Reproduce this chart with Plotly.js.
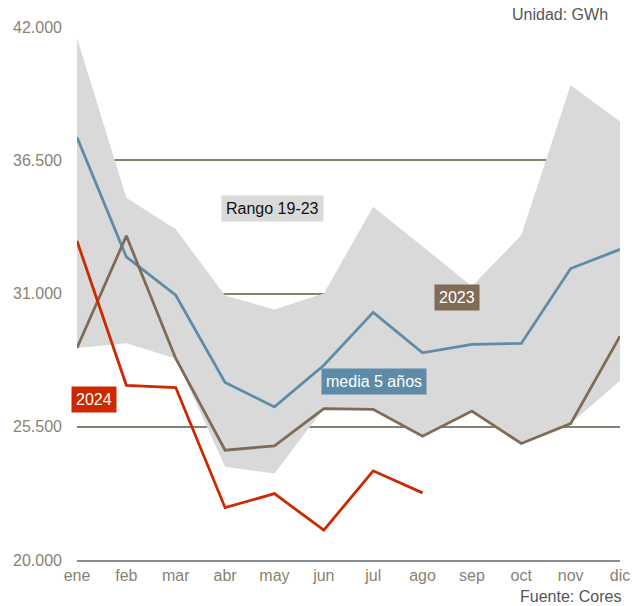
<!DOCTYPE html>
<html>
<head>
<meta charset="utf-8">
<script src="https://cdn.plot.ly/plotly-3.0.1.min.js"></script>
<style>body{margin:0;padding:0;background:#fff}#chart{width:639px;height:606px}</style>
</head>
<body>
<div id="chart"></div>
<script>
const months = ["ene","feb","mar","abr","may","jun","jul","ago","sep","oct","nov","dic"];
const rangeMax = [41550,34950,33650,30920,30340,31000,34580,32950,31300,33400,39600,38100];
const rangeMin = [28750,28950,28320,23850,23570,26250,26220,25110,26150,24810,25630,27400];
const media5 = [37450,32510,30930,27330,26320,28040,30220,28550,28900,28940,32030,32820];
const y2023 = [28750,33380,28320,24530,24710,26250,26220,25110,26150,24810,25630,29240];
const y2024 = [33170,27210,27120,22160,22740,21230,23680,22770];
const yTicks = [20000,25500,31000,36500,42000];

const font = "Liberation Sans, Arial, sans-serif";
const traces = [
  {x: months, y: rangeMin, type:'scatter', mode:'lines', line:{width:0, color:'#d9d9d9'}, hoverinfo:'skip', showlegend:false},
  {x: months, y: rangeMax, type:'scatter', mode:'lines', fill:'tonexty', fillcolor:'#d9d9d9', line:{width:0, color:'#d9d9d9'}, showlegend:false},
  {x: months, y: media5, type:'scatter', mode:'lines', line:{width:2.8, color:'#5e8ca8'}, showlegend:false},
  {x: months, y: y2023, type:'scatter', mode:'lines', line:{width:2.8, color:'#7f6b56'}, showlegend:false},
  {x: months.slice(0, y2024.length), y: y2024, type:'scatter', mode:'lines', line:{width:2.8, color:'#cc2900'}, showlegend:false}
];

function lab(text, x, y, bg, fc){
  return {text:text, x:x, y:y, xref:'x', yref:'y', showarrow:false, bgcolor:bg,
    font:{family:font, size:16, color:fc}, borderpad:4, xanchor:'center', yanchor:'middle'};
}

const layout = {
  width:639, height:606,
  margin:{l:77, r:19, t:27, b:46},
  paper_bgcolor:'#fff', plot_bgcolor:'#fff',
  separators:',.',
  font:{family:font, size:16, color:'#8a8272'},
  xaxis:{type:'category', range:[0,11], showgrid:false, zeroline:false,
    showline:true, linecolor:'#8c8c8c', linewidth:2, ticks:'',
    tickfont:{family:font, size:16, color:'#8a8272'}},
  yaxis:{range:[20000,42000], tickvals:yTicks, tickformat:',d', showgrid:true,
    gridcolor:'#8a8070', gridwidth:2, zeroline:false, showline:false, ticks:'',
    ticklabelstandoff:14,
    tickfont:{family:font, size:16, color:'#8a8272'}},
  annotations:[
    lab('Rango 19-23', 3.96, 34520, '#d9d9d9', '#111'),
    lab('2023', 7.69, 30850, '#7f6b56', '#fff'),
    lab('media 5 años', 6.02, 27380, '#5e8ca8', '#fff'),
    lab('2024', 0.345, 26640, '#cc2900', '#fff'),
    {text:'Unidad: GWh', xref:'paper', yref:'paper', x:(610-77)/543, y:1, xanchor:'right', yanchor:'bottom', yshift:2,
      showarrow:false, font:{family:font, size:16, color:'#555'}},
    {text:'Fuente: Cores', xref:'paper', yref:'paper', x:(623-77)/543, y:0, xanchor:'right', yanchor:'top', yshift:-26,
      showarrow:false, font:{family:font, size:16, color:'#555'}}
  ]
};
Plotly.newPlot('chart', traces, layout, {staticPlot:true, displayModeBar:false});
</script>
</body>
</html>
